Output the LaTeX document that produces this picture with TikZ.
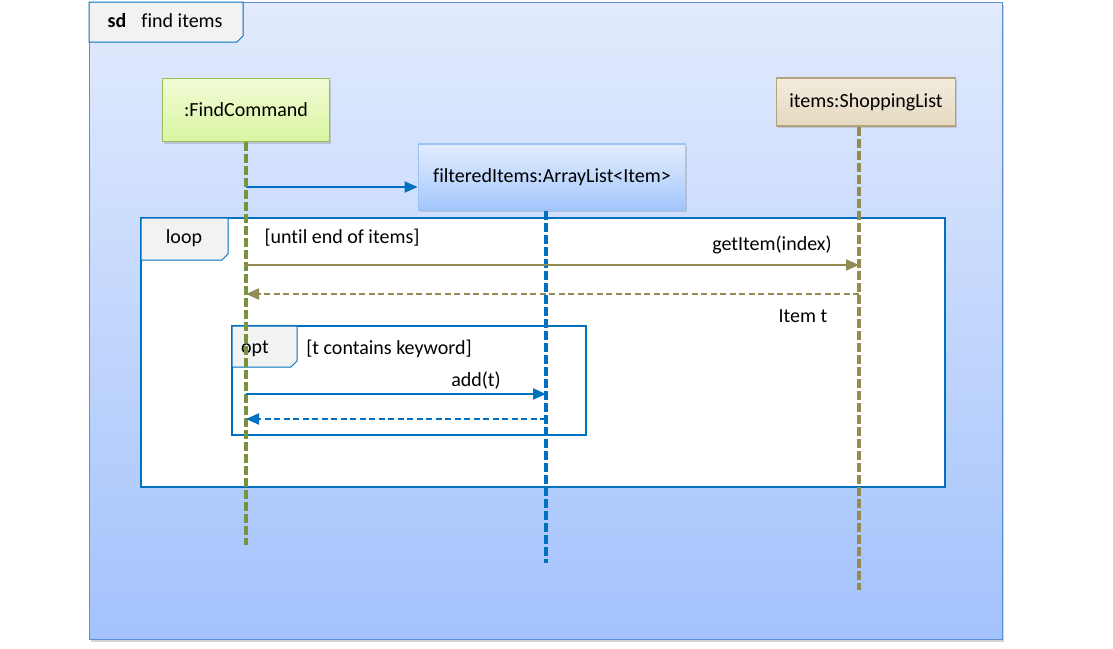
\documentclass[tikz,border=0pt]{standalone}
\usepackage{fontspec}
\setmainfont{Carlito}[Ligatures=NoCommon]
\usepackage{xcolor}
\usetikzlibrary{arrows.meta,shadows}

\definecolor{bgtop}{HTML}{E2EBFD}
\definecolor{bgbot}{HTML}{A3C2FC}
\definecolor{sdedge}{HTML}{5E8FD6}
\definecolor{tabfill}{HTML}{F2F2F2}
\definecolor{fblue}{HTML}{0070C0}
\definecolor{lgreen}{HTML}{77933C}
\definecolor{lolive}{HTML}{948A54}
\definecolor{fctop}{HTML}{F2FBD6}
\definecolor{fcbot}{HTML}{D9F5A0}
\definecolor{fcedge}{HTML}{9BBB59}
\definecolor{fitop}{HTML}{E3EDFE}
\definecolor{fibot}{HTML}{A3C6FC}
\definecolor{fiedge}{HTML}{9CC2F7}
\definecolor{sltop}{HTML}{F3ECDD}
\definecolor{slbot}{HTML}{E4D8C0}
\definecolor{sledge}{HTML}{B4A27C}

\begin{document}
\begin{tikzpicture}[x=1pt, y=-1pt,
    every node/.style={font=\fontsize{20}{24}\selectfont, inner sep=0pt},
    lifebox/.style={draw, line width=1.8pt, drop shadow={opacity=0.3, shadow xshift=1.5pt, shadow yshift=-2pt}},
    lifeline/.style={line width=3.2pt, dash pattern=on 9pt off 3pt},
    msg/.style={line width=2pt, -{Triangle[length=13pt, width=11pt]}},
    ret/.style={msg, dash pattern=on 6pt off 3.5pt},
    tab/.style={draw=fblue, fill=tabfill, line width=1pt},
    fragment/.style={draw=fblue, fill=white, line width=2.2pt}]
    \useasboundingbox (0,0) rectangle (1113,648);

    % outer frame
    \path[draw=sdedge, line width=1pt, top color=bgtop, bottom color=bgbot,
        drop shadow={opacity=0.35, shadow xshift=2pt, shadow yshift=-3pt}] (89,2) rectangle (1002,639);
    \draw[tab] (89,2) -- (243,2) -- (243,36) -- (237,42) -- (89,42) -- cycle;
    \node[font=\fontsize{20}{24}\selectfont\bfseries] (sd) at (117,21) {sd};
    \node (sdname) at (182,21) {find items};

    % objects
    \node[lifebox, draw=fcedge, top color=fctop, bottom color=fcbot, minimum width=167pt, minimum height=63pt] (fc) at (246,110) {:FindCommand};
    \node[lifebox, draw=fiedge, top color=fitop, bottom color=fibot, minimum width=267pt, minimum height=66pt] (fi) at (552,177) {filteredItems:ArrayList<Item>};
    \node[lifebox, draw=sledge, top color=sltop, bottom color=slbot, minimum width=179pt, minimum height=48pt] (sl) at (866,102) {items:ShoppingList};

    \coordinate (fcend) at (246,545);
    \coordinate (fiend) at (546,563);
    \coordinate (slend) at (859,590);

    % creation
    \coordinate (fcnew) at (246,187);
    \draw[msg, fblue] (fcnew) -- (fcnew -| fi.west);

    % loop
    \draw[fragment] (141,218) rectangle (945,487);
    \draw[tab] (141,218) -- (228,218) -- (228,254) -- (222,260) -- (141,260) -- cycle;
    \node (loopkw) at (184,238) {loop};
    \node (loopguard) at (342,238) {[until end of items]};

    % opt
    \draw[fragment] (232,326) rectangle (586,435);
    \draw[tab] (232,326) -- (297,326) -- (297,361) -- (291,367) -- (232,367) -- cycle;
    \node (optkw) at (255,349) {opt};
    \node (optguard) at (389,349) {[t contains keyword]};

    % lifelines
    \draw[lifeline, lgreen] (fc.south) -- (fcend);
    \draw[lifeline, fblue] (fiend |- fi.south) -- (fiend);
    \draw[lifeline, lolive] (slend |- sl.south) -- (slend);

    % messages
    \coordinate (fcget) at (246,265);
    \coordinate (slget) at (859,265);
    \draw[msg, lolive] (fcget) -- (slget);
    \node (getlbl) at (772,245) {getItem(index)};

    \coordinate (slret) at (859,294);
    \coordinate (fcret) at (246,294);
    \draw[ret, lolive] (slret) -- (fcret);
    \node (retlbl) at (803,316) {Item t};

    \coordinate (fcadd) at (246,394);
    \coordinate (fiadd) at (546,394);
    \draw[msg, fblue] (fcadd) -- (fiadd);
    \node (addlbl) at (476,381) {add(t)};

    \coordinate (fiaddret) at (546,419);
    \coordinate (fcaddret) at (246,419);
    \draw[ret, fblue] (fiaddret) -- (fcaddret);
\end{tikzpicture}
\end{document}
